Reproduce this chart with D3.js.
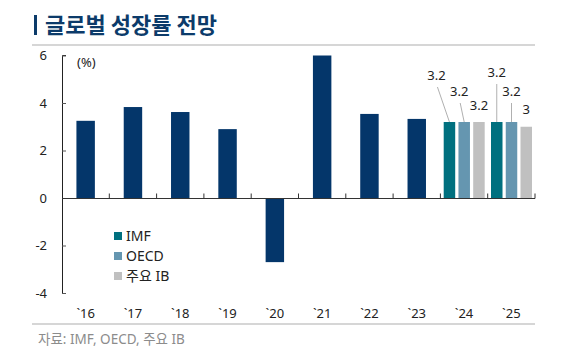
<!DOCTYPE html>
<html><head><meta charset="utf-8">
<script src="https://cdn.jsdelivr.net/npm/d3@7"></script>
<style>
body{margin:0;background:#fff;}
svg{display:block;font-family:"Noto Sans","Noto Sans CJK KR",sans-serif;}
</style></head>
<body>
<svg id="c" width="579" height="359"></svg>
<script>
const years = ["`16","`17","`18","`19","`20","`21","`22","`23","`24","`25"];
const actualYears = ["`16","`17","`18","`19","`20","`21","`22","`23"];
const actualValues = [3.25, 3.83, 3.62, 2.9, -2.7, 6.0, 3.54, 3.33];
const forecastYears = ["`24","`25"];
const seriesNames = ["IMF","OECD","주요 IB"];
const imfValues = [3.2, 3.2];
const oecdValues = [3.2, 3.2];
const ibValues = [3.2, 3.0];
const yTicks = [-4,-2,0,2,4,6];

const colors = {actual:"#04366a", IMF:"#00707f", OECD:"#6596b0", "주요 IB":"#c0c0c0"};
// label annotation layout (offsets from bar top-center): [dx, dy, leader]
const labelLayout = {
  "`24": {IMF:[-13,-47,true], OECD:[-5,-31,true], "주요 IB":[0,-17,false]},
  "`25": {IMF:[0,-50,true], OECD:[0,-31,true], "주요 IB":[0,-17,false]}
};

const svg = d3.select("#c");
// title
svg.append("rect").attr("x",34).attr("y",15).attr("width",3).attr("height",20).attr("fill","#0c3b6a");
svg.append("text").attr("x",45).attr("y",33).text("글로벌 성장률 전망")
  .attr("font-family","Noto Sans CJK KR").attr("font-size",22).attr("font-weight","bold").attr("fill","#0c3b6a");
svg.append("line").attr("x1",32).attr("x2",535).attr("y1",45).attr("y2",45).attr("stroke","#c8c8c8").attr("stroke-width",1.5);
svg.append("line").attr("x1",32).attr("x2",535).attr("y1",324).attr("y2",324).attr("stroke","#c8c8c8").attr("stroke-width",1.5);
svg.append("text").attr("x",38).attr("y",344).text("자료: IMF, OECD, 주요 IB").attr("font-size",13.5).attr("fill","#8c8c8c");

const x = d3.scaleBand().domain(years).range([62,535]).padding(0);
const y = d3.scaleLinear().domain([-4,6]).range([293,55.5]);
const sx = d3.scaleBand().domain(seriesNames).range([3.3, x.bandwidth()-3]).paddingInner(0.22);
const bw = x.bandwidth()*0.39;

// bars
svg.append("g").selectAll("rect").data(actualYears.map((k,i)=>({k,v:actualValues[i]}))).join("rect")
  .attr("x",d=>x(d.k)+(x.bandwidth()-bw)/2).attr("width",bw)
  .attr("y",d=>y(Math.max(0,d.v))).attr("height",d=>Math.abs(y(d.v)-y(0)))
  .attr("fill",colors.actual);

const fdata = [];
forecastYears.forEach((k,i)=>{
  [[ "IMF",imfValues[i]],["OECD",oecdValues[i]],["주요 IB",ibValues[i]]].forEach(([s,v])=>fdata.push({k,s,v}));
});
const fg = svg.append("g");
fg.selectAll("rect").data(fdata).join("rect")
  .attr("x",d=>x(d.k)+sx(d.s)).attr("width",sx.bandwidth())
  .attr("y",d=>y(d.v)).attr("height",d=>y(0)-y(d.v)).attr("fill",d=>colors[d.s]);

// labels
fdata.forEach(d=>{
  const [dx,dy,leader] = labelLayout[d.k][d.s];
  const cx = x(d.k)+sx(d.s)+sx.bandwidth()/2;
  const top = y(d.v);
  const lx = cx+dx, ly = top+dy;
  if(leader){
    svg.append("line").attr("x1",lx+(dx<0?1:0)).attr("y1",ly+12).attr("x2",cx).attr("y2",top)
      .attr("stroke","#b0b0b0").attr("stroke-width",1);
  }
  svg.append("text").attr("x",lx).attr("y",ly).attr("dy","0.35em").attr("text-anchor","middle")
    .attr("font-size",13).attr("fill","#222").text(d.v===3?"3":d.v.toFixed(1));
});

// axes
const yAxis = svg.append("g").attr("transform","translate(62,0)")
  .call(d3.axisRight(y).tickValues(yTicks).tickSize(4).tickFormat(""));
yAxis.select(".domain").attr("stroke","#222").attr("d","M4,293.5H0.5V55.5H4");
yAxis.selectAll(".tick line").attr("stroke","#555");
svg.append("g").selectAll("text").data(yTicks).join("text")
  .attr("x",47).attr("y",d=>y(d)).attr("dy","0.35em").attr("text-anchor","end")
  .attr("font-size",13).attr("fill","#222").text(d=>d);

const xAxis = svg.append("g").attr("transform",`translate(0,${y(0)})`);
xAxis.append("line").attr("x1",62).attr("x2",535).attr("y1",0.5).attr("y2",0.5).attr("stroke","#333");
xAxis.selectAll("line.t").data(years.map(k=>x(k)+x.bandwidth())).join("line").attr("class","t")
  .attr("x1",d=>d).attr("x2",d=>d).attr("y1",0.5).attr("y2",-4.5).attr("stroke","#333");
svg.append("g").selectAll("text").data(years).join("text")
  .attr("x",d=>x(d)+x.bandwidth()/2).attr("y",313).attr("dy","0.35em").attr("text-anchor","middle")
  .attr("font-size",13).attr("fill","#222").text(d=>d);

svg.append("text").attr("x",77).attr("y",62).attr("dy","0.35em").attr("font-size",13).attr("fill","#222").text("(%)");

// legend
const lg = svg.append("g");
seriesNames.forEach((s,i)=>{
  lg.append("rect").attr("x",114).attr("y",232+i*20).attr("width",8).attr("height",8).attr("fill",colors[s]);
  lg.append("text").attr("x",126).attr("y",236+i*20).attr("dy","0.35em").attr("font-size",14).attr("fill","#222").text(s);
});
</script>
</body></html>
